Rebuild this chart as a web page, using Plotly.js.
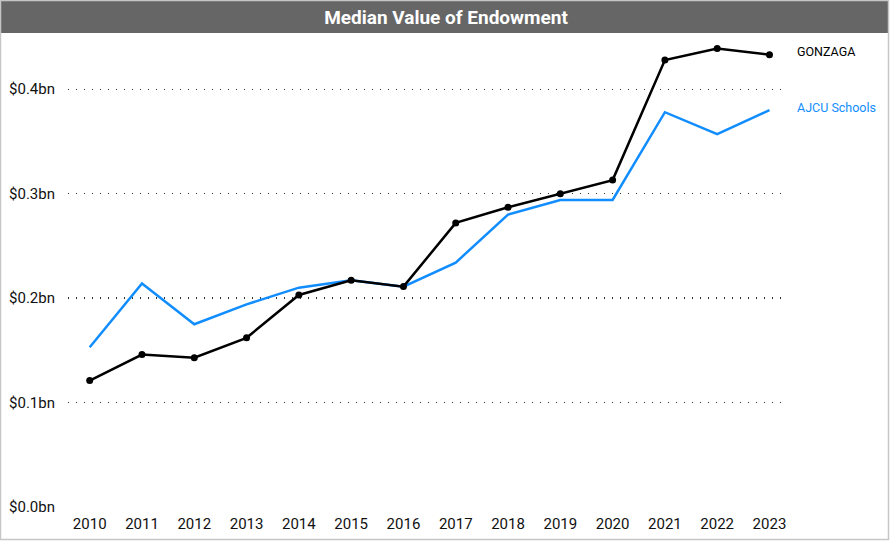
<!DOCTYPE html>
<html>
<head>
<meta charset="utf-8">
<script src="https://cdn.plot.ly/plotly-3.0.1.min.js"></script>
<style>
  html, body { margin: 0; padding: 0; background: #fff; }
  #chart { width: 892px; height: 541px; }
</style>
</head>
<body>
<div id="chart"></div>
<script>
// data
const years = [2010, 2011, 2012, 2013, 2014, 2015, 2016, 2017, 2018, 2019, 2020, 2021, 2022, 2023]
const gonzaga = [0.121, 0.146, 0.143, 0.162, 0.203, 0.217, 0.211, 0.272, 0.287, 0.300, 0.313, 0.428, 0.439, 0.433]
const ajcu = [0.153, 0.214, 0.175, 0.194, 0.210, 0.217, 0.211, 0.234, 0.280, 0.294, 0.294, 0.378, 0.357, 0.380]
const yTicks = [0, 0.1, 0.2, 0.3, 0.4]
const yTickText = ['$0.0bn', '$0.1bn', '$0.2bn', '$0.3bn', '$0.4bn']

const W = 892, H = 541
const m = {l: 68, r: 105, t: 37, b: 34}
const pw = W - m.l - m.r
const ph = H - m.t - m.b
const px = x => (x - m.l) / pw
const py = y => (H - m.b - y) / ph

const font = 'Roboto, "DejaVu Sans", sans-serif'
const blue = '#118DFF'

const data = [
    {
        x: years, y: ajcu, name: 'AJCU Schools',
        type: 'scatter', mode: 'lines',
        line: {color: blue, width: 2.5}
    },
    {
        x: years, y: gonzaga, name: 'GONZAGA',
        type: 'scatter', mode: 'lines+markers',
        line: {color: '#000', width: 2.5},
        marker: {color: '#000', size: 7}
    }
]

const last = years.length - 1
const layout = {
    width: W, height: H,
    margin: m,
    paper_bgcolor: '#fff',
    plot_bgcolor: '#fff',
    showlegend: false,
    font: {family: font, size: 15, color: '#111'},
    title: {
        text: '<b>Median Value of Endowment</b>',
        font: {family: font, size: 19, color: '#fff'},
        x: 0.5, xanchor: 'center',
        y: 1 - 17 / H, yanchor: 'middle', yref: 'container'
    },
    xaxis: {
        range: [2009.585, 2023.335],
        tickvals: years,
        showgrid: false, zeroline: false, showline: false,
        ticks: '', ticklen: 0, ticklabelstandoff: 6,
        tickfont: {family: font, size: 15, color: '#111'}
    },
    yaxis: {
        range: [0, 0.45],
        tickvals: yTicks, ticktext: yTickText,
        showgrid: true, gridcolor: '#333', gridwidth: 1.3, griddash: '1.3px,6.7px',
        zeroline: false, showline: false,
        ticks: '', ticklabelstandoff: 12,
        tickfont: {family: font, size: 15, color: '#111'}
    },
    shapes: [
        {
            type: 'rect', xref: 'paper', yref: 'paper', layer: 'below',
            x0: px(1), x1: px(888), y0: py(33), y1: py(1),
            fillcolor: '#666', line: {width: 0}
        },
        {
            type: 'rect', xref: 'paper', yref: 'paper',
            x0: px(0.5), x1: px(888.5), y0: py(539.5), y1: py(0.5),
            fillcolor: 'rgba(0,0,0,0)', line: {color: '#c6c6c6', width: 1.5}
        }
    ],
    annotations: [
        {
            x: years[last], y: gonzaga[last], xref: 'x', yref: 'y',
            text: 'GONZAGA', showarrow: false,
            xanchor: 'left', xshift: 26, yshift: 3,
            font: {family: font, size: 12.5, color: '#000'}
        },
        {
            x: years[last], y: ajcu[last], xref: 'x', yref: 'y',
            text: 'AJCU Schools', showarrow: false,
            xanchor: 'left', xshift: 26, yshift: 3,
            font: {family: font, size: 12.5, color: blue}
        }
    ]
}

Plotly.newPlot('chart', data, layout, {displayModeBar: false, staticPlot: true})
</script>
</body>
</html>
